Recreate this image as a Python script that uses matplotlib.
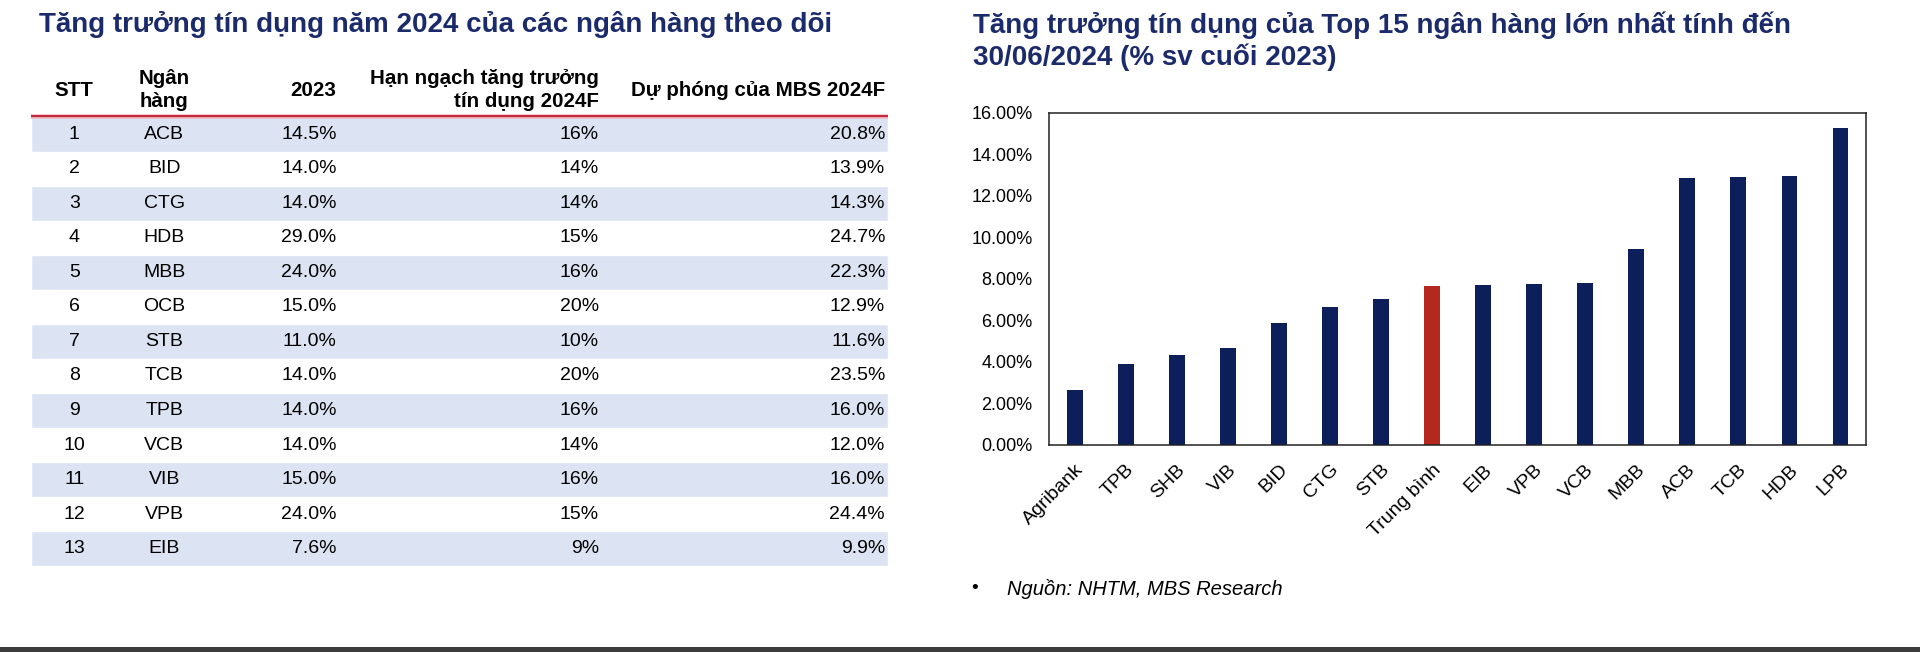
import matplotlib
matplotlib.use("Agg")
import matplotlib.pyplot as plt
from matplotlib.patches import Rectangle
from matplotlib.ticker import FuncFormatter

plt.rcParams["font.family"] = ["Liberation Sans", "DejaVu Sans"]

# left table data
stt = [1, 2, 3, 4, 5, 6, 7, 8, 9, 10, 11, 12, 13]
banks = ["ACB", "BID", "CTG", "HDB", "MBB", "OCB", "STB", "TCB", "TPB",
         "VCB", "VIB", "VPB", "EIB"]
growth_2023 = [14.5, 14.0, 14.0, 29.0, 24.0, 15.0, 11.0, 14.0, 14.0, 14.0,
               15.0, 24.0, 7.6]
quota_2024 = [16, 14, 14, 15, 16, 20, 10, 20, 16, 14, 16, 15, 9]
mbs_2024 = [20.8, 13.9, 14.3, 24.7, 22.3, 12.9, 11.6, 23.5, 16.0, 12.0,
            16.0, 24.4, 9.9]
headers = ["STT", "Ngân\nhàng", "2023", "Hạn ngạch tăng trưởng\ntín dụng 2024F",
           "Dự phóng của MBS 2024F"]

# right chart data
chart_banks = ["Agribank", "TPB", "SHB", "VIB", "BID", "CTG", "STB",
               "Trung bình", "EIB", "VPB", "VCB", "MBB", "ACB", "TCB", "HDB",
               "LPB"]
growth_h1 = [2.63, 3.88, 4.31, 4.65, 5.88, 6.65, 7.03, 7.64, 7.71, 7.72,
             7.77, 9.41, 12.85, 12.90, 12.97, 15.25]

NAVY = "#1b2a6b"
BAR = "#0c1f5b"
RED = "#b5281d"
BAND = "#dce3f2"

fig = plt.figure(figsize=(19.2, 6.52), dpi=100)

# ---- table ----
fig.text(0.0203, 0.962, "Tăng trưởng tín dụng năm 2024 của các ngân hàng theo dõi",
         fontsize=20, fontweight="bold", color=NAVY, va="center")

tab = fig.add_axes([0.0159, 0.132, 0.4464, 0.776])
tab.set_xlim(0, 1)
tab.set_ylim(13.5, -1.15)
tab.axis("off")

odd = [s for s in stt if s % 2 == 1]
tab.barh(odd, [1] * len(odd), height=1, left=0, color=BAND,
         edgecolor="white", linewidth=1)
tab.axhline(0.47, color="#c8283c", lw=2.5)
tab.axhline(0.53, color="#ecc4ca", lw=1.2)

col_x = [0.051, 0.156, 0.357, 0.663, 0.997]
col_ha = ["center", "center", "right", "right", "right"]
hy = -0.275
for x, ha, h in zip(col_x, col_ha, headers):
    tab.text(x, hy, h, ha=ha, va="center", fontsize=14.8, fontweight="bold",
             linespacing=1.3, multialignment=ha)

for i, s in enumerate(stt):
    cells = [str(s), banks[i], f"{growth_2023[i]:.1f}%", f"{quota_2024[i]}%",
             f"{mbs_2024[i]:.1f}%"]
    for x, ha, c in zip(col_x, col_ha, cells):
        tab.text(x, s, c, ha=ha, va="center", fontsize=14)

# ---- bar chart ----
fig.text(0.5068, 0.962,
         "Tăng trưởng tín dụng của Top 15 ngân hàng lớn nhất tính đến",
         fontsize=20, fontweight="bold", color=NAVY, va="center")
fig.text(0.5068, 0.912, "30/06/2024 (% sv cuối 2023)",
         fontsize=20, fontweight="bold", color=NAVY, va="center")

ax = fig.add_axes([0.5464, 0.3182, 0.4255, 0.509])
colors = [RED if b == "Trung bình" else BAR for b in chart_banks]
ax.bar(range(len(chart_banks)), growth_h1, width=0.31, color=colors)
ax.set_xlim(-0.5, len(chart_banks) - 0.5)
ax.set_ylim(0, 16)
ax.set_yticks(range(0, 17, 2))
ax.yaxis.set_major_formatter(FuncFormatter(lambda v, p: f"{v:.2f}%"))
ax.set_xticks(range(len(chart_banks)))
ax.set_xticklabels(chart_banks, rotation=45, ha="right", va="top",
                   rotation_mode="anchor", fontsize=14)
ax.tick_params(axis="y", length=0, pad=12, labelsize=13)
ax.tick_params(axis="x", length=0, pad=12)
for side in ax.spines:
    ax.spines[side].set_color("#222222")
    ax.spines[side].set_linewidth(1.1)

fig.text(0.5057, 0.097, "•", fontsize=14, va="center")
fig.text(0.5245, 0.097, "Nguồn: NHTM, MBS Research", fontsize=14.5,
         fontstyle="italic", va="center")

fig.add_artist(Rectangle((0, 0), 1, 0.008, transform=fig.transFigure,
                         color="#3c3c3c", lw=0))

fig.savefig("out.png", dpi=100)
